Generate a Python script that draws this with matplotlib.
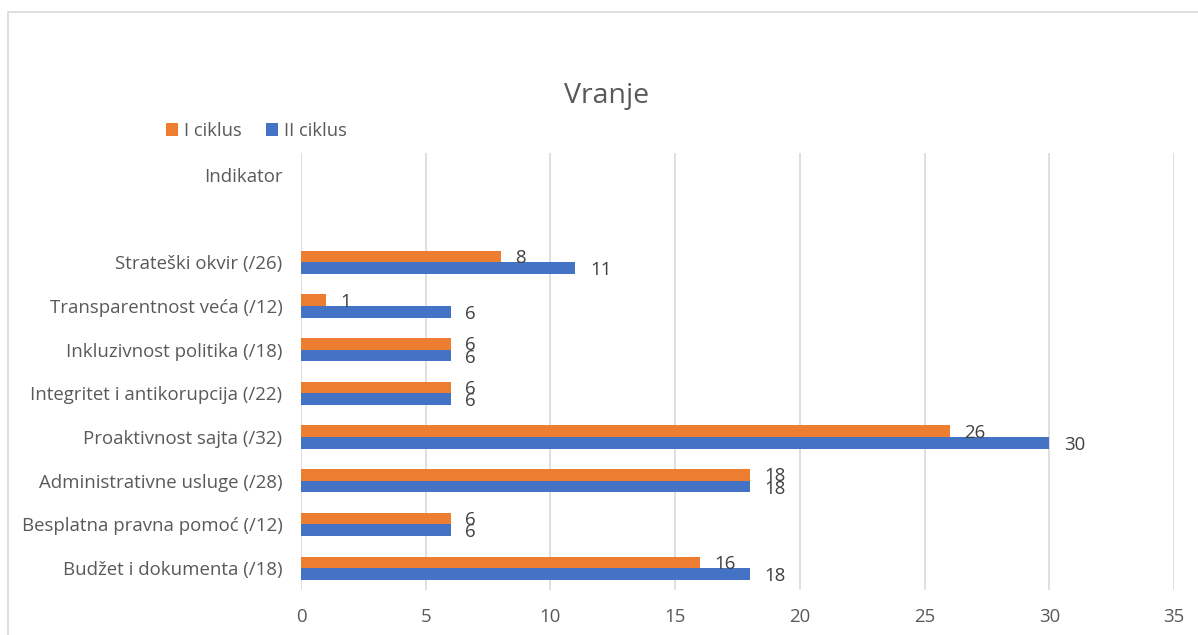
import matplotlib
matplotlib.use("Agg")
import matplotlib.pyplot as plt
import matplotlib.patches as mpatches
import numpy as np

categories = ["Budžet i dokumenta (/18)", "Besplatna pravna pomoć (/12)",
              "Administrativne usluge (/28)", "Proaktivnost sajta (/32)",
              "Integritet i antikorupcija (/22)", "Inkluzivnost politika (/18)",
              "Transparentnost veća (/12)", "Strateški okvir (/26)", "", "Indikator"]
ciklus1 = [16, 6, 18, 26, 6, 6, 1, 8, np.nan, np.nan]
ciklus2 = [18, 6, 18, 30, 6, 6, 6, 11, np.nan, np.nan]
series_names = ["I ciklus", "II ciklus"]
xticks = [0, 5, 10, 15, 20, 25, 30, 35]

ORANGE = "#ED7D31"
BLUE = "#4472C4"
TXT = "#595959"
FONT = "Open Sans"
FS = 13.4

plt.rcParams['font.family'] = [FONT, 'DejaVu Sans']

W, H = 1198, 635
fig = plt.figure(figsize=(W/100, H/100), dpi=100)
ax = fig.add_axes([301/W, 1-590/H, (1174-301)/W, (590-153)/H])

# chart border
fig.patches.append(mpatches.Rectangle((8/W, -0.1), 1.2, 1-12/H+0.1,
                   transform=fig.transFigure, fill=False, edgecolor="#d9d9d9", lw=1.2))

y = np.arange(len(categories))
h = 0.265
ax.barh(y + h/2, ciklus1, height=h, color=ORANGE, label=series_names[0], zorder=3)
ax.barh(y - h/2, ciklus2, height=h, color=BLUE, label=series_names[1], zorder=3)

for yi, v in zip(y, ciklus1):
    if np.isfinite(v):
        ax.annotate(f"{v:g}", (v, yi + h/2), xytext=(10.5, -1), textcoords="offset points",
                    ha="left", va="center", fontsize=FS, color="#404040")
for yi, v in zip(y, ciklus2):
    if np.isfinite(v):
        ax.annotate(f"{v:g}", (v, yi - h/2), xytext=(10.5, -1.5), textcoords="offset points",
                    ha="left", va="center", fontsize=FS, color="#404040")

ax.set_xlim(0, 35)
ax.set_ylim(-0.5, len(categories) - 0.5)
ax.set_xticks(xticks)
ax.set_yticks(y)
ax.set_yticklabels(categories)
ax.tick_params(axis="both", length=0, colors=TXT, labelsize=FS)
ax.tick_params(axis="x", pad=13)
ax.tick_params(axis="y", pad=13.5)
ax.grid(axis="x", color="#d9d9d9", lw=1.2, zorder=0)
for s in ax.spines.values():
    s.set_visible(False)

fig.text(607/W, 1-96/H, "Vranje", ha="center", va="center", fontsize=20.5, color=TXT)

ax.legend(loc="center left", bbox_to_anchor=(166/W, 1-131/H), bbox_transform=fig.transFigure,
          ncol=2, frameon=False, handlelength=0.65, handleheight=0.65, handletextpad=0.35,
          columnspacing=1.3, fontsize=13.2, labelcolor=TXT, borderpad=0, borderaxespad=0)

fig.savefig("out.png", dpi=100)
